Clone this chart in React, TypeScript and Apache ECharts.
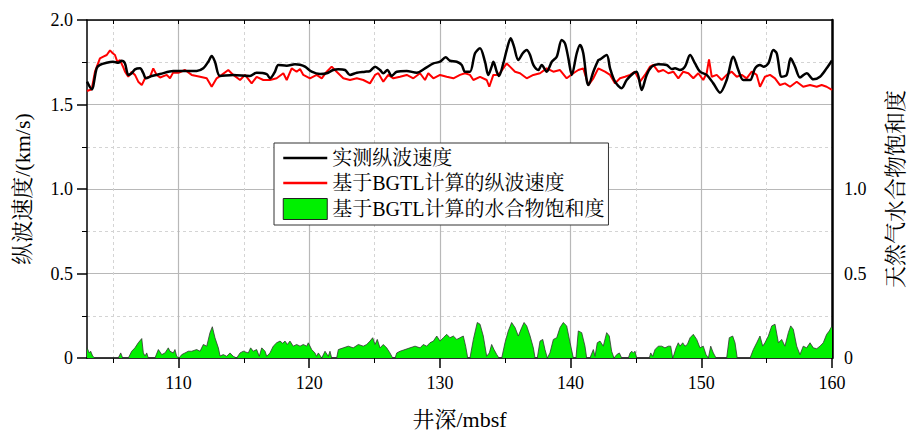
import React, { useEffect, useRef } from 'react';
import * as echarts from 'echarts';

const FONT = '"Liberation Serif", "Noto Serif CJK SC", "Noto Sans CJK SC", serif';

const X_MIN = 103;
const X_MAX = 160;
const X_MAJOR_TICKS = [110, 120, 130, 140, 150, 160];
const X_MINOR_TICKS = [105, 115, 125, 135, 145, 155];

const SERIES_NAMES = ['实测纵波速度', '基于BGTL计算的纵波速度', '基于BGTL计算的水合物饱和度'];

// 实测纵波速度 (km/s)
const BLACK_DEPTH = [
  103.0, 103.36, 103.74, 103.99, 104.5, 105.0, 105.39, 105.65, 105.9, 106.16,
  106.42, 106.67, 107.06, 107.31, 107.51, 107.95, 108.59, 109.6, 111.39, 111.9,
  112.28, 112.54, 112.79, 113.18, 114.19, 115.47, 115.98, 116.75, 117.0, 117.38,
  117.64, 118.28, 118.91, 119.3, 119.68, 120.19, 120.83, 121.34, 121.84, 122.23,
  122.74, 123.12, 123.64, 124.27, 124.65, 125.04, 125.42, 125.67, 125.98, 126.31,
  126.7, 127.46, 128.23, 128.86, 129.5, 130.01, 130.44, 130.77, 131.29, 131.67,
  131.92, 132.3, 132.69, 133.07, 133.45, 133.7, 133.96, 134.09, 134.35, 134.52,
  134.85, 135.11, 135.42, 135.67, 136.0, 136.34, 136.64, 136.9, 137.15, 137.53,
  137.79, 138.17, 138.56, 138.94, 139.32, 139.57, 139.83, 140.09, 140.47, 140.72,
  140.97, 141.23, 141.36, 141.74, 142.12, 142.25, 142.76, 143.02, 143.4, 143.91,
  144.29, 144.8, 145.06, 145.44, 145.82, 146.21, 146.71, 147.35, 147.74, 147.99,
  148.37, 148.75, 149.14, 149.52, 149.9, 150.41, 150.92, 151.43, 151.94, 152.45,
  152.83, 153.21, 153.73, 154.11, 154.49, 154.75, 155.13, 155.51, 155.77, 156.15,
  156.53, 156.84, 157.17, 157.55, 158.06, 158.57, 159.08, 159.59, 160.0,
];
const BLACK_VP = [
  1.635, 1.59, 1.714, 1.734, 1.747, 1.753, 1.747, 1.759, 1.744, 1.675,
  1.685, 1.708, 1.714, 1.685, 1.655, 1.669, 1.68, 1.698, 1.698, 1.714,
  1.753, 1.787, 1.753, 1.669, 1.675, 1.669, 1.688, 1.68, 1.655, 1.694,
  1.734, 1.73, 1.738, 1.735, 1.724, 1.694, 1.68, 1.685, 1.704, 1.708,
  1.704, 1.675, 1.688, 1.694, 1.698, 1.724, 1.704, 1.685, 1.704, 1.669,
  1.694, 1.698, 1.688, 1.714, 1.743, 1.753, 1.779, 1.759, 1.753, 1.734,
  1.694, 1.694, 1.803, 1.833, 1.753, 1.675, 1.724, 1.753, 1.694, 1.669,
  1.743, 1.822, 1.892, 1.842, 1.763, 1.803, 1.822, 1.793, 1.734, 1.704,
  1.734, 1.694, 1.753, 1.783, 1.882, 1.862, 1.773, 1.675, 1.803, 1.852,
  1.803, 1.645, 1.615, 1.694, 1.763, 1.767, 1.793, 1.714, 1.635, 1.596,
  1.645, 1.685, 1.694, 1.586, 1.675, 1.724, 1.738, 1.734, 1.71, 1.714,
  1.704, 1.724, 1.793, 1.743, 1.694, 1.675, 1.625, 1.57, 1.645, 1.783,
  1.704, 1.645, 1.645, 1.714, 1.734, 1.724, 1.743, 1.822, 1.803, 1.664,
  1.675, 1.773, 1.724, 1.66, 1.685, 1.649, 1.664, 1.714, 1.76,
];

// 基于BGTL计算的纵波速度 (km/s)
const RED_DEPTH = [
  103.0, 103.36, 103.61, 103.99, 104.25, 104.51, 104.76, 104.97, 105.14, 105.32,
  105.52, 105.73, 105.91, 106.16, 106.42, 106.67, 106.92, 107.19, 107.44, 107.82,
  108.07, 108.33, 108.59, 109.1, 109.35, 109.6, 109.99, 110.5, 111.01, 111.65,
  112.16, 112.54, 112.92, 113.31, 113.81, 114.19, 114.71, 115.09, 115.6, 115.98,
  116.49, 117.0, 117.51, 118.02, 118.28, 118.66, 119.04, 119.3, 119.55, 120.06,
  120.57, 120.96, 121.34, 121.72, 122.1, 122.61, 123.12, 123.64, 124.14, 124.65,
  125.04, 125.29, 125.67, 126.05, 126.44, 126.95, 127.46, 127.97, 128.48, 128.86,
  129.11, 129.5, 130.01, 130.52, 131.03, 131.54, 131.92, 132.3, 132.56, 133.07,
  133.58, 133.78, 134.09, 134.47, 134.85, 135.11, 135.36, 135.75, 136.13, 136.64,
  137.15, 137.66, 138.17, 138.68, 139.19, 139.7, 140.21, 140.59, 140.97, 141.36,
  141.74, 142.12, 142.63, 143.02, 143.4, 143.78, 144.16, 144.55, 144.93, 145.31,
  145.69, 146.08, 146.33, 146.71, 147.09, 147.48, 147.86, 148.24, 148.62, 149.01,
  149.39, 149.77, 150.15, 150.41, 150.59, 150.8, 151.18, 151.56, 151.94, 152.33,
  152.71, 153.09, 153.47, 153.86, 154.24, 154.49, 154.87, 155.26, 155.64, 156.02,
  156.4, 156.79, 157.3, 157.8, 158.32, 158.83, 159.21, 159.59, 160.0,
];
const RED_VP = [
  1.58, 1.59, 1.694, 1.773, 1.783, 1.793, 1.82, 1.803, 1.793, 1.753,
  1.763, 1.728, 1.694, 1.664, 1.694, 1.675, 1.635, 1.615, 1.655, 1.664,
  1.714, 1.675, 1.66, 1.675, 1.655, 1.69, 1.688, 1.704, 1.675, 1.664,
  1.655, 1.605, 1.655, 1.675, 1.704, 1.675, 1.645, 1.675, 1.625, 1.664,
  1.645, 1.645, 1.655, 1.685, 1.645, 1.714, 1.694, 1.71, 1.675, 1.655,
  1.675, 1.655, 1.694, 1.724, 1.694, 1.655, 1.645, 1.655, 1.645, 1.625,
  1.675, 1.685, 1.635, 1.675, 1.655, 1.664, 1.675, 1.655, 1.685, 1.645,
  1.685, 1.655, 1.675, 1.664, 1.655, 1.675, 1.685, 1.675, 1.645, 1.664,
  1.645, 1.605, 1.675, 1.675, 1.714, 1.743, 1.724, 1.694, 1.685, 1.655,
  1.675, 1.685, 1.714, 1.694, 1.704, 1.655, 1.685, 1.704, 1.714, 1.615,
  1.655, 1.714, 1.694, 1.675, 1.625, 1.655, 1.664, 1.675, 1.694, 1.635,
  1.675, 1.724, 1.734, 1.694, 1.704, 1.685, 1.694, 1.655, 1.694, 1.685,
  1.655, 1.685, 1.645, 1.685, 1.767, 1.664, 1.675, 1.645, 1.675, 1.694,
  1.664, 1.675, 1.655, 1.694, 1.675, 1.605, 1.664, 1.675, 1.655, 1.615,
  1.625, 1.605, 1.635, 1.605, 1.615, 1.605, 1.615, 1.605, 1.586,
];

// 基于BGTL计算的水合物饱和度
const GH_DEPTH = [
  103.0, 103.18, 103.28, 103.44, 103.61, 105.39, 105.58, 105.73, 106.16, 106.42,
  106.67, 106.92, 107.19, 107.31, 107.44, 107.57, 107.69, 108.2, 108.46, 108.72,
  108.97, 109.22, 109.35, 109.6, 109.73, 109.86, 110.04, 110.25, 110.5, 110.75,
  111.01, 111.39, 111.65, 111.9, 112.16, 112.41, 112.59, 112.79, 113.05, 113.18,
  113.43, 113.69, 113.94, 114.19, 114.45, 114.71, 114.96, 115.34, 115.52, 115.72,
  115.98, 116.18, 116.37, 116.62, 116.75, 117.0, 117.25, 117.51, 117.77, 117.97,
  118.15, 118.33, 118.53, 118.78, 119.04, 119.3, 119.55, 119.81, 119.93, 120.19,
  120.44, 120.57, 120.7, 120.96, 121.21, 121.46, 121.59, 121.72, 122.1, 122.23,
  122.61, 122.99, 123.37, 123.76, 124.14, 124.4, 124.65, 124.86, 125.04, 125.21,
  125.42, 125.67, 125.93, 126.18, 126.39, 126.57, 126.7, 126.95, 127.33, 127.71,
  128.1, 128.48, 128.73, 128.99, 129.24, 129.5, 129.76, 130.01, 130.26, 130.52,
  130.77, 131.03, 131.29, 131.54, 131.79, 131.97, 132.13, 132.3, 132.56, 132.86,
  133.07, 133.32, 133.58, 133.78, 133.96, 134.14, 134.35, 134.52, 134.73, 134.98,
  135.23, 135.49, 135.75, 136.0, 136.26, 136.44, 136.64, 136.9, 137.15, 137.28,
  137.45, 137.66, 137.87, 138.04, 138.22, 138.42, 138.68, 138.94, 139.19, 139.44,
  139.7, 139.96, 140.21, 140.41, 140.59, 140.85, 141.1, 141.23, 141.48, 141.74,
  141.87, 142.04, 142.25, 142.5, 142.76, 142.96, 143.14, 143.32, 143.53, 143.73,
  143.91, 144.42, 144.55, 144.68, 144.8, 144.93, 145.06, 146.02, 146.13, 146.28,
  146.46, 146.71, 146.97, 147.22, 147.48, 147.66, 147.81, 147.91, 148.07, 148.24,
  148.37, 148.58, 148.75, 148.93, 149.14, 149.39, 149.65, 149.9, 150.15, 150.36,
  150.54, 150.72, 150.92, 151.13, 151.94, 152.14, 152.4, 152.58, 152.75, 153.73,
  153.98, 154.24, 154.49, 154.7, 154.87, 155.13, 155.39, 155.64, 155.9, 156.15,
  156.4, 156.66, 156.84, 157.04, 157.3, 157.55, 157.8, 158.06, 158.32, 158.57,
  158.83, 159.08, 159.33, 159.59, 159.79, 160.0,
];
const GH_SAT = [
  0.06, 0.03, 0.04, 0.01, 0, 0, 0.03, 0, 0, 0.04,
  0.06, 0.09, 0.115, 0.03, 0.012, 0.03, 0, 0, 0.05, 0.02,
  0.03, 0.06, 0.04, 0.03, 0.05, 0.01, 0, 0.02, 0.03, 0.04,
  0.04, 0.05, 0.04, 0.08, 0.07, 0.15, 0.185, 0.12, 0.06, 0.012,
  0.02, 0.01, 0.03, 0.01, 0, 0.03, 0.04, 0.03, 0.06, 0.04,
  0.05, 0.01, 0.06, 0.04, 0.01, 0.03, 0.07, 0.09, 0.10, 0.087,
  0.10, 0.08, 0.10, 0.07, 0.08, 0.07, 0.08, 0.07, 0.09, 0.05,
  0.03, 0.01, 0.03, 0, 0.04, 0.01, 0.04, 0, 0, 0.05,
  0.06, 0.07, 0.06, 0.08, 0.07, 0.08, 0.10, 0.12, 0.08, 0.11,
  0.06, 0.08, 0.06, 0.03, 0, 0, 0.03, 0.04, 0.05, 0.06,
  0.07, 0.06, 0.08, 0.07, 0.09, 0.10, 0.13, 0.10, 0.12, 0.14,
  0.12, 0.13, 0.11, 0.12, 0.13, 0.07, 0, 0, 0.11, 0.21,
  0.20, 0.13, 0.01, 0.03, 0.08, 0.05, 0.02, 0, 0, 0.09,
  0.16, 0.21, 0.18, 0.13, 0.18, 0.21, 0.19, 0.13, 0.06, 0,
  0, 0.10, 0.11, 0.05, 0, 0.03, 0.11, 0.12, 0.18, 0.21,
  0.19, 0.09, 0, 0, 0.16, 0.15, 0.07, 0, 0, 0.05,
  0.01, 0.09, 0.10, 0.07, 0.15, 0.13, 0.04, 0, 0.02, 0.03,
  0, 0, 0.03, 0.04, 0.03, 0.04, 0, 0, 0.03, 0.01,
  0.05, 0.07, 0.07, 0.06, 0.07, 0.07, 0, 0.02, 0.06, 0.09,
  0.07, 0.09, 0.07, 0.08, 0.12, 0.14, 0.11, 0.06, 0.07, 0.02,
  0, 0.07, 0.03, 0, 0, 0.12, 0.13, 0.09, 0, 0,
  0.05, 0.09, 0.13, 0.07, 0.09, 0.13, 0.19, 0.20, 0.09, 0.11,
  0.07, 0.15, 0.19, 0.17, 0.07, 0.02, 0.07, 0.06, 0.09, 0.06,
  0.055, 0.07, 0.09, 0.14, 0.16, 0.19,
];

const pairs = (xs: number[], ys: number[]) => xs.map((x, i) => [x, ys[i]]).filter((p) => p[1] !== undefined);

const GREEN = '#00f000';
const textBase = { fontFamily: FONT, color: '#000' };
const HIDDEN_SYMBOL = { color: 'rgba(0,0,0,0)', borderColor: 'rgba(0,0,0,0)', borderWidth: 0, opacity: 0 };

export default function App() {
  const ref = useRef<HTMLDivElement>(null);
  useEffect(() => {
    if (!ref.current) return;
    const chart = echarts.init(ref.current, null, { renderer: 'svg' });
    const option: any = {
      animation: false,
      backgroundColor: '#fff',
      grid: { left: 87, right: 77, top: 20, bottom: 75, containLabel: false, outerBoundsMode: 'none' },
      legend: {
        orient: 'vertical',
        left: 274,
        top: 143,
        padding: [5, 4, 5, 8],
        itemGap: 5,
        itemWidth: 44,
        itemHeight: 21,
        backgroundColor: '#fff',
        borderColor: '#333',
        borderWidth: 1,
        borderRadius: 0,
        selectedMode: false,
        textStyle: { ...textBase, fontSize: 20 },
        data: [
          { name: SERIES_NAMES[0], itemStyle: HIDDEN_SYMBOL, lineStyle: { color: '#000', width: 2.5 } },
          { name: SERIES_NAMES[1], itemStyle: HIDDEN_SYMBOL, lineStyle: { color: '#ff0000', width: 2.5 } },
          { name: SERIES_NAMES[2], icon: 'rect', itemStyle: { color: GREEN, borderColor: '#222', borderWidth: 1 } },
        ],
      },
      xAxis: [
        {
          type: 'value',
          min: X_MIN,
          max: X_MAX,
          position: 'bottom',
          axisLine: { show: true, onZero: false, lineStyle: { color: '#000', width: 1.5 } },
          axisTick: { show: true, inside: false, length: 10, customValues: X_MAJOR_TICKS, lineStyle: { color: '#000', width: 1.5 } },
          axisLabel: { customValues: X_MAJOR_TICKS, margin: 16, fontSize: 18, ...textBase },
          splitLine: { show: true, lineStyle: { color: '#b8b8b8', width: 1.2 } },
          name: '井深/mbsf',
          nameLocation: 'middle',
          nameGap: 50,
          nameTextStyle: { ...textBase, fontSize: 22 },
        },
        {
          type: 'value',
          min: X_MIN,
          max: X_MAX,
          position: 'bottom',
          axisLine: { show: false },
          axisTick: { show: true, inside: false, length: 5, customValues: X_MINOR_TICKS, lineStyle: { color: '#000', width: 1 } },
          axisLabel: { show: false, customValues: X_MINOR_TICKS },
          splitLine: { show: true, lineStyle: { color: '#d4d4d4', width: 1, type: [3, 3] } },
        },
        {
          type: 'value',
          min: X_MIN,
          max: X_MAX,
          position: 'top',
          axisLine: { show: true, onZero: false, lineStyle: { color: '#000', width: 1.5 } },
          axisTick: { show: true, inside: true, length: 4, customValues: [...X_MINOR_TICKS, ...X_MAJOR_TICKS], lineStyle: { color: '#000', width: 1 } },
          axisLabel: { show: false },
          splitLine: { show: false },
        },
      ],
      yAxis: [
        {
          type: 'value',
          min: 0,
          max: 2,
          interval: 0.5,
          position: 'left',
          axisLine: { show: true, onZero: false, lineStyle: { color: '#000', width: 1.5 } },
          axisTick: { show: true, inside: false, length: 10, lineStyle: { color: '#000', width: 1.5 } },
          minorTick: { show: true, splitNumber: 2, length: 5, lineStyle: { color: '#000', width: 1 } },
          axisLabel: { margin: 14, fontSize: 18, ...textBase, formatter: (v: number) => (v === 0 ? '0' : v.toFixed(1)) },
          splitLine: { show: true, lineStyle: { color: '#b8b8b8', width: 1.2 } },
          minorSplitLine: { show: true, lineStyle: { color: '#d4d4d4', width: 1, type: [3, 3] } },
          name: '纵波速度/(km/s)',
          nameLocation: 'middle',
          nameGap: 54,
          nameRotate: 90,
          nameTextStyle: { ...textBase, fontSize: 22 },
        },
        {
          type: 'value',
          min: 0,
          max: 2,
          interval: 0.5,
          position: 'right',
          axisLine: { show: true, onZero: false, lineStyle: { color: '#000', width: 2.5 } },
          axisTick: { show: false },
          axisLabel: {
            margin: 12,
            fontSize: 18,
            ...textBase,
            formatter: (v: number) => (v > 1 ? '' : v === 0 ? '0' : v.toFixed(1)),
          },
          splitLine: { show: false },
          name: '天然气水合物饱和度',
          nameLocation: 'middle',
          nameGap: 52,
          nameRotate: 90,
          nameTextStyle: { ...textBase, fontSize: 22 },
        },
      ],
      series: [
        {
          name: SERIES_NAMES[2],
          type: 'line',
          xAxisIndex: 0,
          yAxisIndex: 1,
          data: pairs(GH_DEPTH, GH_SAT),
          symbol: 'none',
          showSymbol: false,
          color: GREEN,
          lineStyle: { color: '#333', width: 0.8 },
          areaStyle: { color: GREEN, opacity: 1 },
          z: 1,
        },
        {
          name: SERIES_NAMES[1],
          type: 'line',
          xAxisIndex: 0,
          yAxisIndex: 0,
          data: pairs(RED_DEPTH, RED_VP),
          symbol: 'none',
          showSymbol: false,
          color: '#ff0000',
          lineStyle: { color: '#ff0000', width: 2 },
          z: 2,
        },
        {
          name: SERIES_NAMES[0],
          type: 'line',
          xAxisIndex: 0,
          yAxisIndex: 0,
          data: pairs(BLACK_DEPTH, BLACK_VP),
          symbol: 'none',
          showSymbol: false,
          smooth: 0.3,
          color: '#000',
          lineStyle: { color: '#000', width: 2.5 },
          z: 3,
        },
      ],
    };
    chart.setOption(option);
    return () => chart.dispose();
  }, []);
  return <div ref={ref} style={{ position: 'fixed', left: 0, top: 0, width: 909, height: 433 }} />;
}
